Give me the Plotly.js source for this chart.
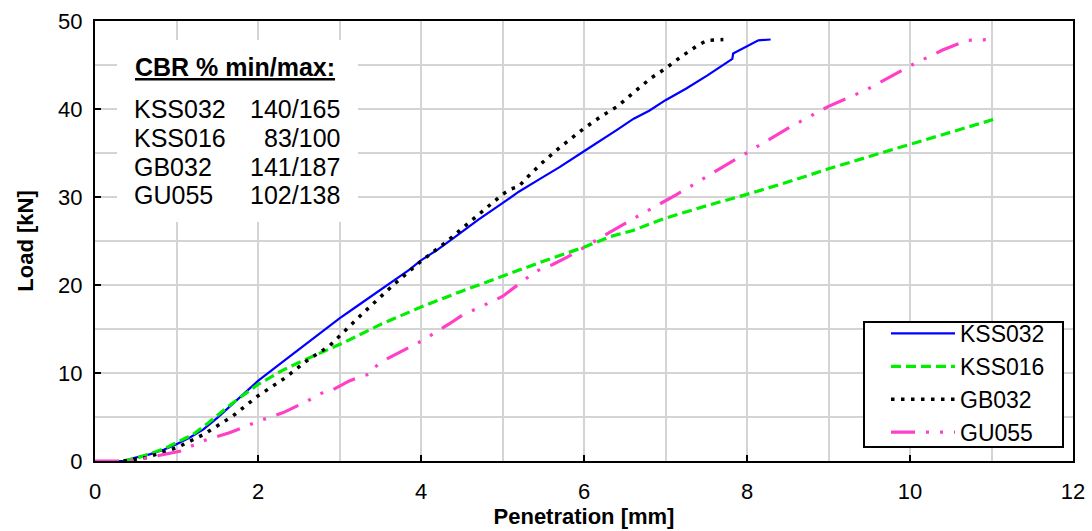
<!DOCTYPE html>
<html>
<head>
<meta charset="utf-8">
<script src="https://cdn.plot.ly/plotly-3.0.1.min.js"></script>
<style>html,body{margin:0;padding:0;background:#fff;}#chart{width:1092px;height:531px;}</style>
</head>
<body>
<div id="chart"></div>
<script>
// Series names
const seriesNames = ["KSS032", "KSS016", "GB032", "GU055"];

// KSS032 (blue, solid)
const kss032X = [0,0.35,0.5,0.67,0.85,1.0,1.17,1.33,1.5,1.69,1.85,2.0,2.25,2.5,2.75,3.0,3.2,3.4,3.66,3.85,4.0,4.2,4.44,4.7,5.0,5.2,5.45,5.7,6.0,6.24,6.4,6.61,6.8,7.0,7.25,7.51,7.7,7.82,7.83,8.0,8.14,8.29];
const kss032Y = [0,0,0.4,0.75,1.3,1.9,2.7,3.6,4.9,6.5,7.9,9.1,10.9,12.7,14.5,16.2,17.5,18.8,20.5,21.7,22.8,24.0,25.6,27.4,29.3,30.6,32.0,33.4,35.2,36.7,37.6,38.9,39.8,41.0,42.3,43.8,45.0,45.7,46.3,47.1,47.8,47.9];

// KSS016 (green, dashed)
const kss016X = [0.35,0.5,0.67,0.85,1.0,1.2,1.4,1.69,2.0,2.3,2.55,2.8,3.04,3.5,4.0,4.5,5.0,5.5,6.0,6.32,6.6,7.0,7.5,8.0,8.5,9.0,9.5,10.0,10.5,11.02];
const kss016Y = [0,0.3,0.8,1.4,2.1,3.0,4.4,6.6,8.7,10.3,11.4,12.4,13.4,15.5,17.5,19.3,21.0,22.7,24.3,25.5,26.2,27.6,29.0,30.3,31.7,33.2,34.6,36.0,37.4,38.8];

// GB032 (black, dotted)
const gb032X = [0.35,0.63,1.0,1.33,1.69,2.0,2.31,2.6,2.88,3.0,3.3,3.66,4.0,4.31,4.6,5.0,5.1,5.2,5.3,5.5,5.7,5.88,6.0,6.2,6.41,6.6,6.82,7.0,7.2,7.39,7.51,7.71];
const gb032Y = [0,0.4,1.5,3.0,5.1,7.4,9.3,11.4,13.1,14.2,16.9,20.0,22.7,24.9,27.2,30.3,30.9,31.2,32.2,34.0,35.6,36.9,37.8,39.1,40.3,41.8,43.5,44.6,46.0,47.2,47.8,47.9];

// GU055 (pink, long dash dot dot)
const gu055X = [0,0.35,0.5,0.76,1.04,1.33,1.65,2.0,2.31,2.6,2.8,2.88,3.12,3.26,3.38,3.42,3.6,3.79,4.0,4.35,4.51,4.75,5.0,5.2,5.4,5.55,5.61,5.8,6.0,6.32,6.6,7.13,7.5,8.0,8.5,9.0,9.47,10.0,10.4,10.7,11.0];
const gu055Y = [0,0,0.1,0.6,1.1,2.3,3.2,4.5,5.5,6.8,7.8,7.9,9.1,9.6,9.9,10.6,11.7,12.6,13.6,15.6,16.6,17.6,18.7,20.1,21.5,22.1,22.3,23.2,24.3,26.0,27.5,30.25,32.3,35.0,37.8,40.3,42.2,44.9,46.7,47.8,47.9];

// CBR table text
const cbrHeader = "CBR % min/max:";
const cbrNames = ["KSS032", "KSS016", "GB032", "GU055"];
const cbrValues = ["140/165", "83/100", "141/187", "102/138"];

const FONT = "Liberation Sans, Arial, sans-serif";

const traces = [
  {x: kss032X, y: kss032Y, name: seriesNames[0], legendgroup: "a", mode: "lines",
   line: {color: "#0000ff", width: 2.2}},
  {x: kss016X, y: kss016Y, name: seriesNames[1], legendgroup: "b", mode: "lines",
   line: {color: "#00ee00", width: 3.2, dash: "10px,5px"}},
  {x: gb032X, y: gb032Y, name: seriesNames[2], legendgroup: "c", mode: "lines",
   line: {color: "#000000", width: 3.5, dash: "3.5px,6.5px"}},
  {x: gu055X, y: gu055Y, name: seriesNames[3], legendgroup: "d", mode: "lines",
   line: {color: "#ff3fc8", width: 3.2, dash: "24px,11px,3px,11px,3px,11px"}}
];

const plotL = 95, plotR = 1073, plotT = 21, plotB = 461;
const pw = plotR - plotL, ph = plotB - plotT;
function px2x(p){ return (p - plotL) / pw; }
function py2y(p){ return (plotB - p) / ph; }

const rowCenters = [109, 138, 166.5, 195];
const annotations = [];
annotations.push({
  xref: "paper", yref: "paper", x: px2x(133), y: py2y(67), xanchor: "left", yanchor: "middle",
  text: "<b><u>" + cbrHeader + "</u></b>", showarrow: false,
  font: {family: FONT, size: 25, color: "#000"}
});
for (let i = 0; i < cbrNames.length; i++) {
  annotations.push({
    xref: "paper", yref: "paper", x: px2x(132), y: py2y(rowCenters[i]), xanchor: "left", yanchor: "middle",
    text: cbrNames[i], showarrow: false, font: {family: FONT, size: 25, color: "#000"}
  });
  annotations.push({
    xref: "paper", yref: "paper", x: px2x(342), y: py2y(rowCenters[i]), xanchor: "right", yanchor: "middle",
    text: cbrValues[i], showarrow: false, font: {family: FONT, size: 25, color: "#000"}
  });
}

const gridC = "#d4d4d4";
const layout = {
  width: 1092, height: 531,
  margin: {l: plotL, r: 1092 - plotR, t: plotT, b: 531 - plotB, pad: 0},
  paper_bgcolor: "#ffffff", plot_bgcolor: "#ffffff",
  font: {family: FONT, color: "#000"},
  showlegend: true,
  legend: {
    x: px2x(886), y: py2y(454), xanchor: "left", yanchor: "bottom",
    bgcolor: "rgba(0,0,0,0)", borderwidth: 0,
    font: {family: FONT, size: 23, color: "#000"},
    tracegroupgap: 4, itemwidth: 64, traceorder: "normal"
  },
  xaxis: {
    range: [0, 12], tick0: 0, dtick: 2, ticks: "inside", ticklen: 6, tickwidth: 2, tickcolor: "#000",
    showline: true, linecolor: "#000", linewidth: 2, mirror: true, zeroline: false,
    showgrid: true, gridcolor: gridC, gridwidth: 2,
    minor: {dtick: 1, showgrid: true, gridcolor: gridC, gridwidth: 2, ticks: ""},
    tickfont: {family: FONT, size: 22, color: "#000"}, ticklabelstandoff: 10,
    title: {text: "<b>Penetration [mm]</b>", font: {family: FONT, size: 22, color: "#000"}, standoff: 4},
    fixedrange: true
  },
  yaxis: {
    range: [0, 50], tick0: 0, dtick: 10, ticks: "inside", ticklen: 6, tickwidth: 2, tickcolor: "#000",
    showline: true, linecolor: "#000", linewidth: 2, mirror: true, zeroline: false,
    showgrid: true, gridcolor: gridC, gridwidth: 2,
    minor: {dtick: 5, showgrid: true, gridcolor: gridC, gridwidth: 2, ticks: ""},
    tickfont: {family: FONT, size: 22, color: "#000"}, ticklabelstandoff: 6,
    title: {text: "<b>Load [kN]</b>", font: {family: FONT, size: 22, color: "#000"}, standoff: 18},
    fixedrange: true
  },
  shapes: [
    {
      type: "rect", xref: "paper", yref: "paper", layer: "above",
      x0: px2x(117), x1: px2x(358), y0: py2y(222), y1: py2y(40),
      fillcolor: "#ffffff", line: {width: 0}
    },
    {
      type: "rect", xref: "paper", yref: "paper", layer: "above",
      x0: px2x(864), x1: px2x(1063), y0: py2y(447), y1: py2y(322),
      fillcolor: "#ffffff", line: {width: 2, color: "#000000"}
    }
  ],
  annotations: annotations
};

Plotly.newPlot("chart", traces, layout, {staticPlot: true, displayModeBar: false});
</script>
</body>
</html>
